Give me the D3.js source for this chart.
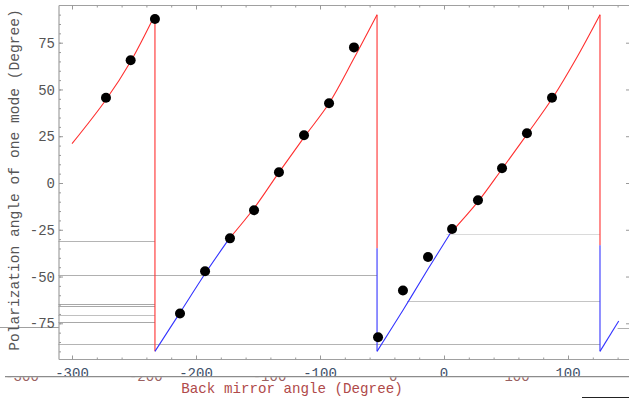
<!DOCTYPE html>
<html><head><meta charset="utf-8">
<script src="https://cdn.jsdelivr.net/npm/d3@7"></script>
<style>body{margin:0;background:#fff}svg{display:block}</style>
</head><body>
<script>
// ---------- data ----------
const xTickValues = [-300, -200, -100, 0, 100];
const xMinorTicks = [-300,-280,-260,-240,-220,-200,-180,-160,-140,-120,-100,-80,-60,-40,-20,0,20,40,60,80,100,120,140];
const yTickValues = [75, 50, 25, 0, -25, -50, -75];
const yMinorTicks = [-90,-85,-80,-75,-70,-65,-60,-55,-50,-45,-40,-35,-30,-25,-20,-15,-10,-5,0,5,10,15,20,25,30,35,40,45,50,55,60,65,70,75,80,85,90];
const secondaryTickLabels = [-300, -200, -100, 0, 100];

// measured points (Back mirror angle, polarization angle)
const dotAngle = [-272.6,-252.7,-233.1,-212.9,-192.7,-172.6,-153.2,-133.1,-112.9,-92.7,-72.6,-53.2,-33.1,-12.9,6.5,27.4,46.8,66.9,87.1];
const dotPolarization = [45.6,65.6,87.7,-69.8,-47.2,-29.6,-14.6,5.7,25.5,42.6,72.5,-82.5,-57.5,-39.6,-24.6,-9.2,7.9,26.6,45.6];

// theory curve pieces
const seg1RedAngle = [-300, -272.6, -252.7, -233.1];
const seg1RedPol   = [21, 44.5, 65, 90];
const seg2BlueAngle = [-233.1, -212.9, -192.7, -173.5];
const seg2BluePol   = [-90, -69.3, -48.5, -30];
const seg2RedAngle = [-173.5, -153.2, -133.1, -112.9, -92.7, -72.6, -54];
const seg2RedPol   = [-30, -13.5, 5.7, 24.4, 42.6, 66.7, 90];
const seg3BlueAngle = [-54, -33.1, -12.9, 5];
const seg3BluePol   = [-90, -68, -46, -27];
const seg3RedAngle = [5, 27.4, 46.8, 66.9, 87.1, 107, 125.8];
const seg3RedPol   = [-27, -10, 7.5, 26, 45, 67, 90];
const seg4BlueAngle = [125.8, 140.9];
const seg4BluePol   = [-90, -73.8];

// jumps: angle, top, bottom
const redJumpAngle = [-233.1, -54, 125.8];
const redJumpTop = [90, 90, 90];
const redJumpBottom = [-90, -34.9, -33.3];
const blueJumpAngle = [-54, 125.8];
const blueJumpTop = [-34.9, -33.3];
const blueJumpBottom = [-90, -90];

// gray reference lines: level, from angle, to angle
const refLevel = [-31.0, -49.3, -64.8, -65.9, -70.7, -74.4, -85.9, -62.9, -27.4, -77.5];
const refFrom  = [-311, -311, -311, -311, -311, -311, -311, -29.8, 2, 140];
const refTo    = [-233.1, -54, -233.1, -233.1, -233.1, -233.1, 125.8, 125.8, 125.8, 150];
const refShade = ["#b4b4b4","#b0b0b0","#a8a8a8","#a8a8a8","#c0c0c0","#a8a8a8","#b4b4b4","#c4c4c4","#dadada","#b0b0b0"];

// ---------- drawing ----------
const W = 629, H = 402;
const L = 59, R = 630, T = 5.5, B = 359.5;
const x = d3.scaleLinear().domain([-300, 100]).range([72, 568]);
const y = d3.scaleLinear().domain([-75, 75]).range([323.3, 42.7]);
const x2 = d3.scaleLinear().domain([-300, 100]).range([22, 517]);
const mono = "'Liberation Mono','Courier New',monospace";

const svg = d3.select("body").append("svg").attr("width", W).attr("height", H);
svg.append("rect").attr("width", W).attr("height", H).attr("fill", "#fff");

const defs = svg.append("defs");
defs.append("clipPath").attr("id", "plotClip").append("rect").attr("x", L).attr("y", T).attr("width", R - L).attr("height", B - T);
defs.append("clipPath").attr("id", "mainLab").append("rect").attr("x", 0).attr("y", 0).attr("width", W).attr("height", 376);
defs.append("clipPath").attr("id", "secLab").append("rect").attr("x", 0).attr("y", 377.3).attr("width", W).attr("height", 25);

// reference lines
const g = svg.append("g");
refLevel.forEach((v, i) => {
  g.append("line")
    .attr("x1", x(refFrom[i])).attr("x2", x(refTo[i]))
    .attr("y1", Math.round(y(v)) + 0.5).attr("y2", Math.round(y(v)) + 0.5)
    .attr("stroke", refShade[i]).attr("stroke-width", 1);
});
// outside-left stub line
g.append("line").attr("x1", 0).attr("x2", L).attr("y1", 327.5).attr("y2", 327.5).attr("stroke", "#a0a0a0");

// frame
const frame = svg.append("g").attr("stroke", "#a0a0a0").attr("stroke-width", 1.2).attr("fill", "none");
frame.append("line").attr("x1", L).attr("x2", R).attr("y1", T).attr("y2", T);
frame.append("line").attr("x1", L).attr("x2", R).attr("y1", B).attr("y2", B);
frame.append("line").attr("x1", L).attr("x2", L).attr("y1", T).attr("y2", B);

function styleAxis(sel) {
  sel.select(".domain").remove();
  sel.selectAll("line").attr("stroke", "#999");
  sel.selectAll("text").remove();
}
// bottom ticks (pointing up)
svg.append("g").attr("transform", `translate(0,${B})`)
  .call(d3.axisTop(x).tickValues(xMinorTicks).tickSize(2).tickSizeOuter(0).tickFormat("")).call(styleAxis);
svg.append("g").attr("transform", `translate(0,${B})`)
  .call(d3.axisTop(x).tickValues(xTickValues).tickSize(4).tickSizeOuter(0).tickFormat("")).call(styleAxis);
// top ticks (pointing down)
svg.append("g").attr("transform", `translate(0,${T})`)
  .call(d3.axisBottom(x).tickValues(xMinorTicks).tickSize(2).tickSizeOuter(0).tickFormat("")).call(styleAxis);
svg.append("g").attr("transform", `translate(0,${T})`)
  .call(d3.axisBottom(x).tickValues(xTickValues).tickSize(4).tickSizeOuter(0).tickFormat("")).call(styleAxis);
// left ticks (pointing right)
svg.append("g").attr("transform", `translate(${L},0)`)
  .call(d3.axisRight(y).tickValues(yMinorTicks).tickSize(2).tickSizeOuter(0).tickFormat("")).call(styleAxis);
svg.append("g").attr("transform", `translate(${L},0)`)
  .call(d3.axisRight(y).tickValues(yTickValues).tickSize(4).tickSizeOuter(0).tickFormat("")).call(styleAxis);
// right ticks (pointing left)
svg.append("g").attr("transform", `translate(${R},0)`)
  .call(d3.axisLeft(y).tickValues(yTickValues).tickSize(4).tickSizeOuter(0).tickFormat("")).call(styleAxis);

// y labels
svg.append("g").selectAll("text").data(yTickValues).join("text")
  .attr("x", 55).attr("y", d => y(d)).attr("dy", "0.36em")
  .attr("text-anchor", "end").attr("font-family", mono).attr("font-size", 14)
  .attr("fill", "#555").text(d => d < 0 ? "-" + Math.abs(d) : d);

// x labels (main, lower part hidden)
svg.append("g").attr("clip-path", "url(#mainLab)").selectAll("text").data(xTickValues).join("text")
  .attr("x", d => x(d)).attr("y", 378.4)
  .attr("text-anchor", "middle").attr("font-family", mono).attr("font-size", 14)
  .attr("fill", "#40506a").text(d => d < 0 ? "-" + Math.abs(d) : d);
// secondary labels (upper part hidden)
svg.append("g").attr("clip-path", "url(#secLab)").selectAll("text").data(secondaryTickLabels).join("text")
  .attr("x", d => x2(d)).attr("y", 380.6)
  .attr("text-anchor", "middle").attr("font-family", mono).attr("font-size", 14)
  .attr("fill", "#9a6060").text(d => d < 0 ? "-" + Math.abs(d) : d);
svg.append("line").attr("x1", 5).attr("x2", 629).attr("y1", 376.6).attr("y2", 376.6)
  .attr("stroke", "#8c8c8c").attr("stroke-width", 1.3);

// curves
const line = d3.line().x(d => x(d[0])).y(d => y(d[1])).curve(d3.curveCatmullRom);
const zip = (a, b) => a.map((v, i) => [v, b[i]]);
const curves = svg.append("g").attr("clip-path", "url(#plotClip)").attr("fill", "none").attr("stroke-width", 1.1);
[[seg1RedAngle, seg1RedPol], [seg2RedAngle, seg2RedPol], [seg3RedAngle, seg3RedPol]].forEach(([a, p]) =>
  curves.append("path").attr("d", line(zip(a, p))).attr("stroke", "#ff3030"));
redJumpAngle.forEach((a, i) =>
  curves.append("line").attr("x1", x(a)).attr("x2", x(a)).attr("y1", y(redJumpTop[i])).attr("y2", y(redJumpBottom[i])).attr("stroke", "#ff3030"));
[[seg2BlueAngle, seg2BluePol], [seg3BlueAngle, seg3BluePol], [seg4BlueAngle, seg4BluePol]].forEach(([a, p]) =>
  curves.append("path").attr("d", line(zip(a, p))).attr("stroke", "#3333ff"));
blueJumpAngle.forEach((a, i) =>
  curves.append("line").attr("x1", x(a)).attr("x2", x(a)).attr("y1", y(blueJumpTop[i])).attr("y2", y(blueJumpBottom[i])).attr("stroke", "#3333ff"));

// dots
svg.append("g").selectAll("circle").data(zip(dotAngle, dotPolarization)).join("circle")
  .attr("cx", d => x(d[0])).attr("cy", d => y(d[1])).attr("r", 5).attr("fill", "#000");

// axis titles
svg.append("text").attr("transform", "translate(18.5,180) rotate(-90)")
  .attr("text-anchor", "middle").attr("font-family", mono).attr("font-size", 14.6)
  .attr("fill", "#555").text("Polarization angle of one mode (Degree)");
svg.append("text").attr("x", 292).attr("y", 393)
  .attr("text-anchor", "middle").attr("font-family", mono).attr("font-size", 14.2)
  .attr("fill", "#b04a4a").text("Back mirror angle (Degree)");

// bottom-right stub
svg.append("line").attr("x1", 582).attr("x2", 629).attr("y1", 397.5).attr("y2", 397.5).attr("stroke", "#222");
</script>
</body></html>
